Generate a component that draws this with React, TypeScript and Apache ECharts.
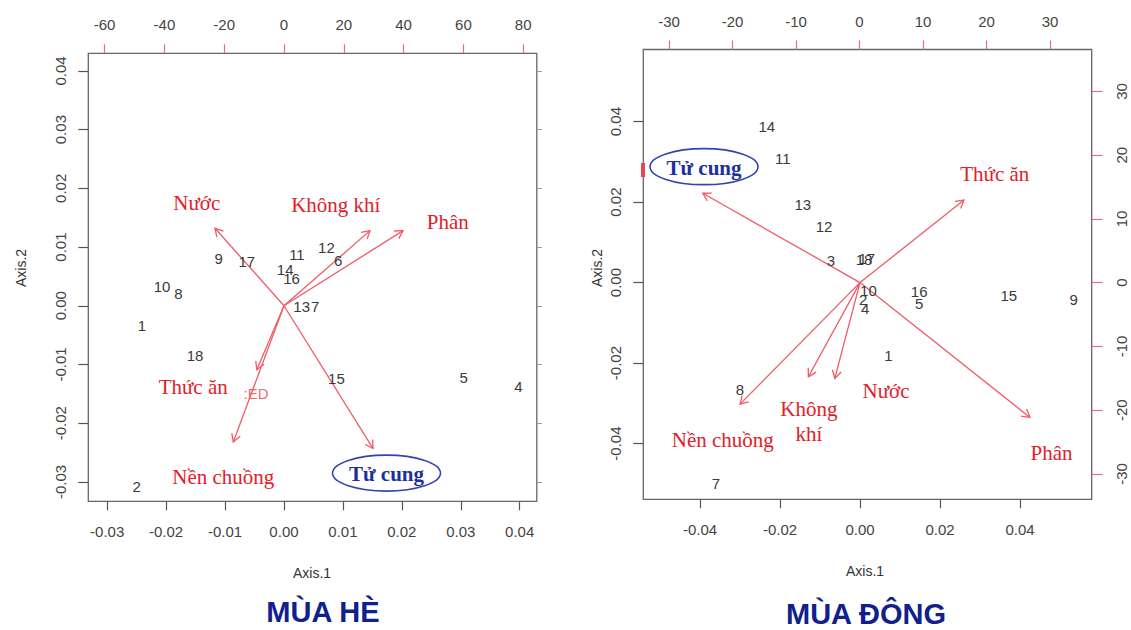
import React, { useEffect, useRef } from "react";
import * as echarts from "echarts";

// ---------------- MÙA HÈ (summer) ----------------
const summerPointLabels = ["1", "2", "4", "5", "6", "7", "8", "9", "10", "11", "12", "13", "14", "15", "16", "17", "18"];
const summerPointX = [-0.0241, -0.0250, 0.0398, 0.0305, 0.0092, 0.0053, -0.0179, -0.0111, -0.0207, 0.0022, 0.0072, 0.0030, 0.0002, 0.0089, 0.0013, -0.0063, -0.0151];
const summerPointY = [-0.0033, -0.0308, -0.0138, -0.0123, 0.0077, -0.0002, 0.0021, 0.0081, 0.0032, 0.0088, 0.0100, -0.0001, 0.0061, -0.0124, 0.0047, 0.0076, -0.0084];

const summerVarNames = ["Nước", "Không khí", "Phân", "Thức ăn", "Nền chuồng", "Tử cung"];
const summerVarX = [-0.0117, 0.0146, 0.0202, -0.0046, -0.0086, 0.0151];
const summerVarY = [0.0132, 0.0128, 0.0128, -0.0109, -0.0232, -0.0243];
const summerVarLabelX = [-0.0148, 0.0088, 0.0278, -0.0154, -0.0103, 0.0174];
const summerVarLabelY = [0.0175, 0.0171, 0.0143, -0.0138, -0.0291, -0.0285];

const summerAxis1Range = [-0.0332, 0.0429];
const summerAxis2Range = [-0.0333, 0.0430];
const summerTopRange = [-65.45, 84.55];
const summerAxis1Ticks = [-0.03, -0.02, -0.01, 0, 0.01, 0.02, 0.03, 0.04];
const summerAxis2Ticks = [-0.03, -0.02, -0.01, 0, 0.01, 0.02, 0.03, 0.04];
const summerTopTicks = [-60, -40, -20, 0, 20, 40, 60, 80];

// ---------------- MÙA ĐÔNG (winter) ----------------
const winterPointLabels = ["1", "2", "3", "4", "5", "7", "8", "9", "10", "11", "12", "13", "14", "15", "16", "17", "18"];
const winterPointX = [0.0071, 0.0008, -0.0073, 0.0013, 0.0148, -0.0360, -0.0300, 0.0534, 0.0021, -0.0193, -0.0090, -0.0143, -0.0233, 0.0372, 0.0148, 0.0017, 0.0010];
const winterPointY = [-0.0182, -0.0043, 0.0056, -0.0064, -0.0053, -0.0499, -0.0265, -0.0043, -0.0020, 0.0309, 0.0139, 0.0193, 0.0387, -0.0031, -0.0023, 0.0059, 0.0057];

const winterVarNames = ["Tử cung", "Thức ăn", "Nền chuồng", "Không\nkhí", "Nước", "Phân"];
const winterVarX = [-0.0393, 0.0260, -0.0300, -0.0129, -0.0063, 0.0425];
const winterVarY = [0.0222, 0.0205, -0.0302, -0.0234, -0.0238, -0.0335];
const winterVarLabelX = [-0.0390, 0.0337, -0.0343, -0.0128, 0.0065, 0.0479];
const winterVarLabelY = [0.0288, 0.0270, -0.0391, -0.0344, -0.0269, -0.0424];

const winterAxis1Range = [-0.05418, 0.05793];
const winterAxis2Range = [-0.05384, 0.05791];
const winterTopRange = [-34.05, 36.57];
const winterRightRange = [-33.97, 36.57];
const winterAxis1Ticks = [-0.04, -0.02, 0, 0.02, 0.04];
const winterAxis2Ticks = [-0.04, -0.02, 0, 0.02, 0.04];
const winterTopTicks = [-30, -20, -10, 0, 10, 20, 30];
const winterRightTicks = [-30, -20, -10, 0, 10, 20, 30];

const titles = ["MÙA HÈ", "MÙA ĐÔNG"];

// ---------------- styles ----------------
const ARROW = "#ef5b68";
const VAR_TEXT = "#e3202a";
const PT_TEXT = "#3a3a3a";
const AXIS_GRAY = "#555";
const TICK_RED = "#e0707c";
const LABEL_GRAY = "#444";
const SANS = '"Liberation Sans", Arial, sans-serif';
const SERIF = '"Liberation Serif", "Times New Roman", serif';

const arrowRender = (params: any, api: any) => {
  const o = api.coord([0, 0]);
  const t = api.coord([api.value(0), api.value(1)]);
  const ang = Math.atan2(t[1] - o[1], t[0] - o[0]);
  const L = 9;
  const a = Math.PI / 6;
  const p1 = [t[0] - L * Math.cos(ang - a), t[1] - L * Math.sin(ang - a)];
  const p2 = [t[0] - L * Math.cos(ang + a), t[1] - L * Math.sin(ang + a)];
  return {
    type: "group",
    children: [
      { type: "line", shape: { x1: o[0], y1: o[1], x2: t[0], y2: t[1] }, style: { stroke: ARROW, lineWidth: 1.3 } },
      { type: "polyline", shape: { points: [p1, t, p2] }, style: { stroke: ARROW, lineWidth: 1.3, fill: "none" } },
    ],
  };
};

const varLabelRender = (names: string[]) => (params: any, api: any) => {
  const p = api.coord([api.value(0), api.value(1)]);
  const name = names[params.dataIndex];
  if (name === "Tử cung") {
    return {
      type: "group",
      children: [
        { type: "ellipse", shape: { cx: p[0], cy: p[1], rx: 54, ry: 18 }, style: { stroke: "#3343b3", lineWidth: 1.6, fill: "#fff" } },
        {
          type: "text",
          style: { text: name, x: p[0], y: p[1] + 1, align: "center", verticalAlign: "middle", font: `bold 21px ${SERIF}`, fill: "#1d2f9e" },
        },
      ],
    };
  }
  return {
    type: "text",
    style: { text: name, x: p[0], y: p[1], align: "center", verticalAlign: "middle", font: `21px ${SERIF}`, fill: VAR_TEXT, lineHeight: 25 },
  };
};

const pointRender = (labels: string[]) => (params: any, api: any) => {
  const p = api.coord([api.value(0), api.value(1)]);
  return {
    type: "text",
    style: { text: labels[params.dataIndex], x: p[0], y: p[1], align: "center", verticalAlign: "middle", font: `15px ${SANS}`, fill: PT_TEXT },
  };
};

const zip = (xs: number[], ys: number[]) => xs.map((x, i) => [x, ys[i]]);

const fmt2 = (v: number) => (Math.abs(v) < 1e-9 ? "0.00" : v.toFixed(2));
const fmt0 = (v: number) => String(Math.round(v));

const bottomAxis = (grid: number, range: number[], ticks: number[]) => ({
  type: "value",
  gridIndex: grid,
  position: "bottom",
  min: range[0],
  max: range[1],
  axisLine: { show: false, onZero: false },
  splitLine: { show: false },
  axisTick: { show: true, length: 9, customValues: ticks, lineStyle: { color: AXIS_GRAY, width: 1.2 } },
  axisLabel: { show: true, customValues: ticks, formatter: fmt2, margin: 23, color: LABEL_GRAY, fontSize: 15, fontFamily: SANS },
});

const topAxis = (grid: number, range: number[], ticks: number[]) => ({
  type: "value",
  gridIndex: grid,
  position: "top",
  min: range[0],
  max: range[1],
  axisLine: { show: false, onZero: false },
  splitLine: { show: false },
  axisTick: { show: true, length: 9, customValues: ticks, lineStyle: { color: TICK_RED, width: 1.2 } },
  axisLabel: { show: true, customValues: ticks, formatter: fmt0, margin: 21, color: LABEL_GRAY, fontSize: 15, fontFamily: SANS },
});

const leftAxis = (grid: number, range: number[], ticks: number[]) => ({
  type: "value",
  gridIndex: grid,
  position: "left",
  min: range[0],
  max: range[1],
  axisLine: { show: false, onZero: false },
  splitLine: { show: false },
  axisTick: { show: true, length: 10, customValues: ticks, lineStyle: { color: AXIS_GRAY, width: 1.2 } },
  axisLabel: { show: true, rotate: 90, customValues: ticks, formatter: fmt2, margin: 20, color: LABEL_GRAY, fontSize: 15, fontFamily: SANS },
});

export default function App() {
  const ref = useRef<HTMLDivElement>(null);

  useEffect(() => {
    if (!ref.current) return;
    const chart = echarts.init(ref.current, null, { renderer: "svg" });

    const option: any = {
      animation: false,
      backgroundColor: "#ffffff",
      textStyle: { fontFamily: SANS },
      grid: [
        { left: 88.3, top: 53.3, width: 448.5, height: 448, show: true, borderColor: "#666", borderWidth: 1.3, backgroundColor: "transparent" },
        { left: 643.3, top: 49.5, width: 448.4, height: 449.8, show: true, borderColor: "#666", borderWidth: 1.3, backgroundColor: "transparent" },
      ],
      xAxis: [
        bottomAxis(0, summerAxis1Range, summerAxis1Ticks),
        topAxis(0, summerTopRange, summerTopTicks),
        bottomAxis(1, winterAxis1Range, winterAxis1Ticks),
        topAxis(1, winterTopRange, winterTopTicks),
      ],
      yAxis: [
        leftAxis(0, summerAxis2Range, summerAxis2Ticks),
        {
          type: "value",
          gridIndex: 0,
          position: "right",
          min: summerAxis2Range[0],
          max: summerAxis2Range[1],
          axisLine: { show: false, onZero: false },
          splitLine: { show: false },
          axisTick: { show: true, length: 5, customValues: summerAxis2Ticks, lineStyle: { color: "#999", width: 1 } },
          axisLabel: { show: false },
        },
        leftAxis(1, winterAxis2Range, winterAxis2Ticks),
        {
          type: "value",
          gridIndex: 1,
          position: "right",
          min: winterRightRange[0],
          max: winterRightRange[1],
          axisLine: { show: false, onZero: false },
          splitLine: { show: false },
          axisTick: { show: true, length: 11, customValues: winterRightTicks, lineStyle: { color: TICK_RED, width: 1.2 } },
          axisLabel: { show: true, rotate: 90, customValues: winterRightTicks, formatter: fmt0, margin: 22, color: LABEL_GRAY, fontSize: 15, fontFamily: SANS },
        },
      ],
      series: [
        { type: "custom", name: "summer-arrows", xAxisIndex: 0, yAxisIndex: 0, renderItem: arrowRender, data: zip(summerVarX, summerVarY), z: 3 },
        { type: "custom", name: "summer-points", xAxisIndex: 0, yAxisIndex: 0, renderItem: pointRender(summerPointLabels), data: zip(summerPointX, summerPointY), z: 4 },
        { type: "custom", name: "summer-vars", xAxisIndex: 0, yAxisIndex: 0, renderItem: varLabelRender(summerVarNames), data: zip(summerVarLabelX, summerVarLabelY), z: 5 },
        { type: "custom", name: "winter-arrows", xAxisIndex: 2, yAxisIndex: 2, renderItem: arrowRender, data: zip(winterVarX, winterVarY), z: 3 },
        { type: "custom", name: "winter-points", xAxisIndex: 2, yAxisIndex: 2, renderItem: pointRender(winterPointLabels), data: zip(winterPointX, winterPointY), z: 4 },
        { type: "custom", name: "winter-vars", xAxisIndex: 2, yAxisIndex: 2, renderItem: varLabelRender(winterVarNames), data: zip(winterVarLabelX, winterVarLabelY), z: 5 },
      ],
      graphic: [
        { type: "text", left: 293, top: 566, style: { text: "Axis.1", font: `14px ${SANS}`, fill: "#333" } },
        { type: "text", left: 846, top: 564, style: { text: "Axis.1", font: `14px ${SANS}`, fill: "#333" } },
        { type: "text", x: 21, y: 268, rotation: Math.PI / 2, style: { text: "Axis.2", font: `14px ${SANS}`, fill: "#333", align: "center", verticalAlign: "middle" } },
        { type: "text", x: 597, y: 268, rotation: Math.PI / 2, style: { text: "Axis.2", font: `14px ${SANS}`, fill: "#333", align: "center", verticalAlign: "middle" } },
        { type: "text", x: 323, y: 612, style: { text: titles[0], font: `bold 29px ${SANS}`, fill: "#10208c", align: "center", verticalAlign: "middle" } },
        { type: "text", x: 866, y: 614, style: { text: titles[1], font: `bold 29px ${SANS}`, fill: "#10208c", align: "center", verticalAlign: "middle" } },
        { type: "text", x: 256, y: 393, style: { text: ":ED", font: `15px ${SANS}`, fill: "#ec6a74", align: "center", verticalAlign: "middle" } },
        { type: "rect", shape: { x: 641, y: 163, width: 4, height: 14 }, style: { fill: "#e04a55" } },
      ],
    };

    chart.setOption(option);
    return () => chart.dispose();
  }, []);

  return <div ref={ref} style={{ position: "absolute", left: 0, top: 0, width: 1131, height: 630, background: "#fff" }} />;
}
